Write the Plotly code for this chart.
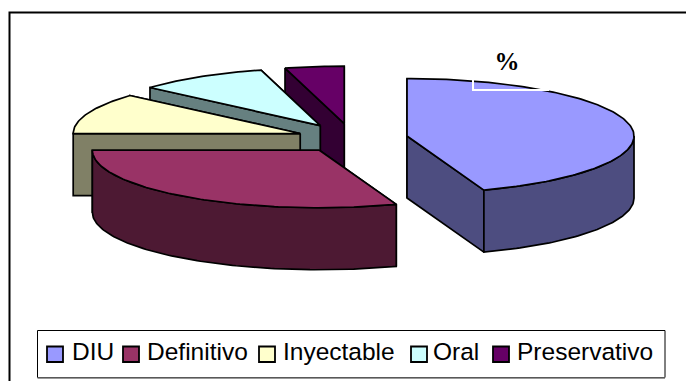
import math
import plotly.graph_objects as go

# Contraceptive method shares, in percent
categories = ["DIU", "Definitivo", "Inyectable", "Oral", "Preservativo"]
values = [44.5, 30.5, 11.5, 9.3, 4.2]
top_colors = ["#9999FF", "#993366", "#FFFFCC", "#CCFFFF", "#660066"]
side_colors = ["#4D4D80", "#4D1933", "#808066", "#668080", "#330033"]
explode = [0.246, 0.25, 0.244, 0.265, 0.26]

# Projection of the tilted pie on the 686x381 canvas
CX, CY = 352.0, 138.5
RX, RY = 227.0, 57.5
DEPTH = 62.0
EDGE = 1.7

# Key layout: left edge of each swatch and of its label
key_swatch_x = [47, 123, 259, 411, 493]
key_label_x = [71, 146, 282, 432, 516]


def rim(center, angle):
    """Point of the top ellipse at a clockwise angle from twelve o'clock."""
    a = math.radians(angle)
    return center[0] + RX * math.sin(a), center[1] - RY * math.cos(a)


def arc(center, start, end):
    n = max(2, int(abs(end - start)))
    return [rim(center, start + (end - start) * i / n) for i in range(n + 1)]


def face(points, fill):
    xs = [p[0] for p in points] + [points[0][0]]
    ys = [p[1] for p in points] + [points[0][1]]
    return go.Scatter(
        x=xs, y=ys, mode="lines", fill="toself", fillcolor=fill,
        line=dict(color="black", width=EDGE), showlegend=False, hoverinfo="skip",
    )


def drop(points):
    return [(x, y + DEPTH) for x, y in points]


def slice_faces(start, end, out, top, side):
    mid = math.radians((start + end) / 2)
    apex = (CX + out * RX * math.sin(mid), CY - out * RY * math.cos(mid))

    # Radial walls: the one turned away from the viewer goes first
    walls = []
    for angle, sign in ((start, -1), (end, 1)):
        edge = [apex, rim(apex, angle)]
        facing = sign * math.sin(math.radians(angle)) > 1e-9
        walls.append((facing, edge + drop(edge)[::-1]))
    walls.sort(key=lambda w: w[0])
    traces = [face(pts, side) for _, pts in walls]

    # Outer wall only exists along the near half of the ellipse
    lo, hi = max(start, 90), min(end, 270)
    if lo < hi:
        outer = arc(apex, lo, hi)
        traces.append(face(outer + drop(outer)[::-1], side))

    traces.append(face([apex] + arc(apex, start, end), top))
    return traces


fig = go.Figure()

# Slices, clockwise from twelve o'clock
total = sum(values)
spans = []
angle = 0.0
for v in values:
    spans.append((angle, angle + 360 * v / total))
    angle += 360 * v / total

# Painted back to front
for i in (4, 3, 2, 1, 0):
    for tr in slice_faces(spans[i][0], spans[i][1], explode[i], top_colors[i], side_colors[i]):
        fig.add_trace(tr)

shapes = [
    # Chart frame, running off the right and bottom of the canvas
    dict(type="rect", xref="x", yref="y", x0=9.5, y0=12.5, x1=720, y1=420,
         line=dict(color="black", width=2), layer="below"),
    # Outline of the title box where it crosses the first slice
    dict(type="path", xref="x", yref="y", path="M 473 79 L 473 90 L 549 90",
         line=dict(color="white", width=2), layer="above"),
    # Key box
    dict(type="rect", xref="x", yref="y", x0=37.5, y0=330.5, x1=665, y1=377.5,
         fillcolor="white", line=dict(color="black", width=1), layer="above"),
    dict(type="line", xref="x", yref="y", x0=37.5, y0=378, x1=665, y1=378,
         line=dict(color="#777777", width=1.5), layer="above"),
]
annotations = []
for name, color, sx, lx in zip(categories, top_colors, key_swatch_x, key_label_x):
    shapes.append(dict(type="rect", xref="x", yref="y", x0=sx, y0=346.5, x1=sx + 16, y1=362,
                       fillcolor=color, line=dict(color="black", width=1.8), layer="above"))
    annotations.append(dict(
        text=name, x=lx, y=351, xref="x", yref="y", xanchor="left", yanchor="middle",
        showarrow=False, borderpad=0,
        font=dict(family="Liberation Sans", size=24.5, color="black"),
    ))

fig.update_layout(
    width=686, height=381,
    margin=dict(l=0, r=0, t=0, b=0),
    paper_bgcolor="white", plot_bgcolor="white",
    showlegend=False,
    xaxis=dict(range=[0, 686], visible=False, fixedrange=True),
    yaxis=dict(range=[381, 0], visible=False, fixedrange=True),
    title=dict(text="<b>%</b>", x=507 / 686, y=1 - 61 / 381, xref="paper", yref="paper",
               xanchor="center", yanchor="middle",
               font=dict(family="Liberation Serif", size=25, color="black")),
    shapes=shapes,
    annotations=annotations,
)

fig.write_html("out.html")
